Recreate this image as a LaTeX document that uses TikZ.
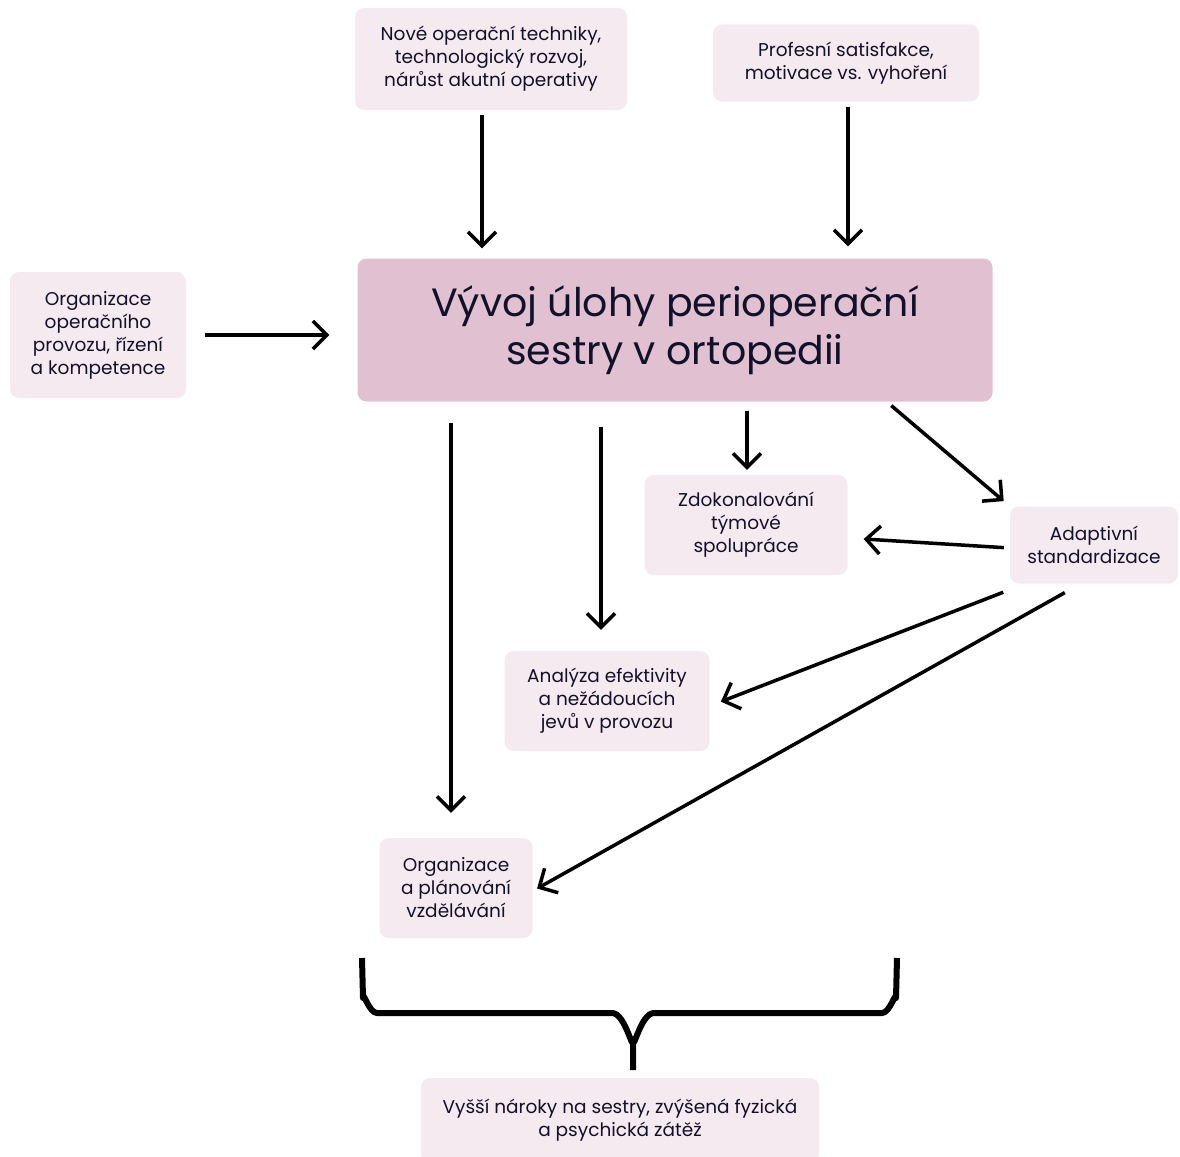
\documentclass[tikz,border=0pt]{standalone}
\usepackage{fontspec}
\setmainfont{Poppins}
\usetikzlibrary{arrows.meta}

\definecolor{boxpink}{HTML}{F6EAF1}
\definecolor{mainpink}{HTML}{E1C0D1}
\definecolor{inkblue}{HTML}{12112A}

\tikzstyle{factor}=[rounded corners=9pt, fill=boxpink, text=inkblue, align=center, inner sep=0pt, font=\fontsize{18.5}{23}\selectfont]
\tikzstyle{central}=[factor, fill=mainpink, font=\fontsize{39.5}{48}\selectfont]
\tikzstyle{link}=[line width=3.5pt, -{Straight Barb[length=14pt,width=28pt]}]

\begin{document}
\begin{tikzpicture}[x=1pt, y=-1pt]
            \useasboundingbox (0,0) rectangle (1180,1156);
            \node[central, minimum width=635, minimum height=143] at (675,330) (role) {Vývoj úlohy perioperační\\sestry v ortopedii};
            \node[factor, minimum width=272, minimum height=102] at (491,59) (tech) {Nové operační techniky,\\technologický rozvoj,\\nárůst akutní operativy};
            \node[factor, minimum width=266, minimum height=77] at (846,63) (satis) {Profesní satisfakce,\\motivace vs. vyhoření};
            \node[factor, minimum width=176, minimum height=126] at (98,335) (provoz) {Organizace\\operačního\\provozu, řízení\\a kompetence};
            \node[factor, minimum width=203, minimum height=100] at (746,525) (team) {Zdokonalování\\týmové\\spolupráce};
            \node[factor, minimum width=168, minimum height=77] at (1094,545) (adapt) {Adaptivní\\standardizace};
            \node[factor, minimum width=205, minimum height=100] at (607,701) (analyza) {Analýza efektivity\\a nežádoucích\\jevů v provozu};
            \node[factor, minimum width=153, minimum height=100] at (456,888) (vzdel) {Organizace\\a plánování\\vzdělávání};
            \node[factor, minimum width=398, minimum height=84] at (620,1120) (naroky) {Vyšší nároky na sestry, zvýšená fyzická\\a psychická zátěž};
            % inputs
            \draw[link, shorten <=5pt, shorten >=10pt] ([xshift=-9]tech.south) -- ([xshift=-9]tech.south |- role.north);
            \draw[link, shorten <=5pt, shorten >=12pt] ([xshift=2]satis.south) -- ([xshift=2]satis.south |- role.north);
            \draw[link, shorten <=19pt, shorten >=28pt] (provoz.east) -- (provoz.east -| role.west);
            % outputs
            \draw[link, shorten <=21pt, shorten >=25pt] (vzdel.north |- role.south) ++(-5,0) -- ([xshift=-5]vzdel.north);
            \draw[link, shorten <=25pt, shorten >=21pt] (analyza.north |- role.south) ++(-6,0) -- ([xshift=-6]analyza.north);
            \draw[link, shorten <=9pt, shorten >=5pt] (team.north |- role.south) ++(1,0) -- ([xshift=1]team.north);
            \draw[link, shorten <=6pt, shorten >=8pt] ([xshift=-106]role.south east) -- (adapt.north west);
            \draw[link, shorten <=6pt, shorten >=16pt] ([yshift=-3]adapt.west) -- ([yshift=-13]team.east);
            \draw[link, shorten <=7pt, shorten >=12pt] ([yshift=-6]adapt.south west) -- ([yshift=-5]analyza.east);
            \draw[link, shorten <=6pt, shorten >=5pt] ([xshift=-24,yshift=-6]adapt.south) -- ([yshift=-3]vzdel.east);
            % brace
            \draw[line width=6pt, line join=round] (362,958) -- (363,998) to[out=90,in=180] (377,1013) -- (612,1013) to[out=0,in=-90] (633,1040) -- (633,1070)
                (633,1040) to[out=-90,in=180] (654,1013) -- (882,1013) to[out=0,in=90] (896,998) -- (897,958);
\end{tikzpicture}
\end{document}
